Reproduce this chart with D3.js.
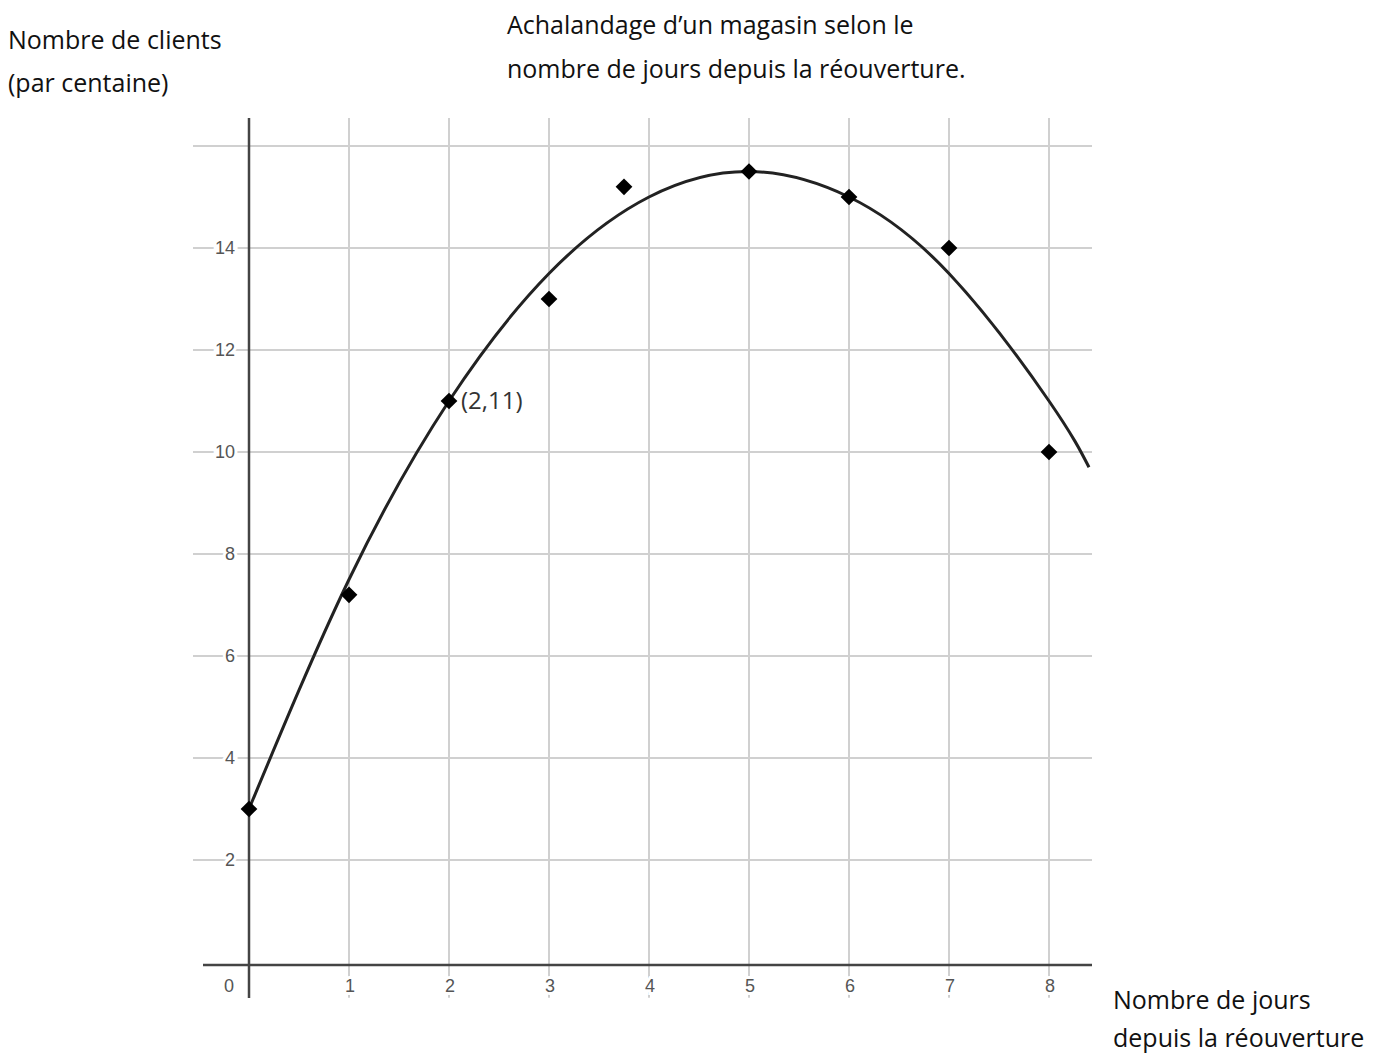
<!DOCTYPE html>
<html>
<head>
<meta charset="utf-8">
<script src="https://cdn.jsdelivr.net/npm/d3@7"></script>
<style>
  body { margin: 0; background: #fff; }
  .note { font-family: "Open Sans", "Noto Sans", sans-serif; font-size: 25px; fill: #111; }
  .tick-lbl { font-family: "Liberation Sans", Arial, sans-serif; font-size: 18px; fill: #555;
              stroke: #fff; stroke-width: 6px; paint-order: stroke; }
</style>
</head>
<body>
<svg id="chart" width="1382" height="1053"></svg>
<script>
// points (days, hundreds of clients)
var days    = [0, 1,   2,  3,  3.75, 5,    6,  7,  8];
var clients = [3, 7.2, 11, 13, 15.2, 15.5, 15, 14, 10];

// fitted curve, read at a few x positions
var curveX = [0, 1,   2,  3,    4,  5,    6,  7,    8,  8.4];
var curveY = [3, 7.5, 11, 13.5, 15, 15.5, 15, 13.5, 11, 9.7];

var xTicks = [0, 1, 2, 3, 4, 5, 6, 7, 8];
var yTicks = [2, 4, 6, 8, 10, 12, 14];
var yGrid  = [2, 4, 6, 8, 10, 12, 14, 16];

var svg = d3.select("#chart");

var x = d3.scaleLinear().domain([0, 8]).range([249, 1049]);
var y = d3.scaleLinear().domain([0, 14]).range([962, 248]);

var xmin = -0.56, xmax = 8.43, ymin = -0.7, ymax = 16.55;

// grid
svg.selectAll(".hgrid").data(yGrid).enter().append("line")
    .attr("x1", x(xmin)).attr("x2", x(xmax))
    .attr("y1", function(d) { return y(d); }).attr("y2", function(d) { return y(d); })
    .attr("stroke", "#d0d0d0").attr("stroke-width", 2);
svg.selectAll(".vgrid").data(xTicks.slice(1)).enter().append("line")
    .attr("x1", function(d) { return x(d); }).attr("x2", function(d) { return x(d); })
    .attr("y1", y(ymax)).attr("y2", y(ymin))
    .attr("stroke", "#d0d0d0").attr("stroke-width", 2);

// tick labels (white halo over the grid)
svg.selectAll(".xl").data(xTicks).enter().append("text")
    .attr("class", "tick-lbl")
    .attr("x", function(d) { return d == 0 ? x(d) - 20 : x(d) + 1; })
    .attr("y", 992)
    .attr("text-anchor", "middle")
    .text(function(d) { return d; });
svg.selectAll(".yl").data(yTicks).enter().append("text")
    .attr("class", "tick-lbl")
    .attr("x", 235)
    .attr("y", function(d) { return y(d) + 6; })
    .attr("text-anchor", "end")
    .text(function(d) { return d; });

// axes
svg.append("line")
    .attr("x1", x(-0.46)).attr("x2", x(xmax))
    .attr("y1", y(0) + 3).attr("y2", y(0) + 3)
    .attr("stroke", "#444").attr("stroke-width", 2.5);
svg.append("line")
    .attr("x1", x(0)).attr("x2", x(0))
    .attr("y1", y(ymax)).attr("y2", 998)
    .attr("stroke", "#444").attr("stroke-width", 2.5);

// curve
var line = d3.line()
    .curve(d3.curveNatural)
    .x(function(d, i) { return x(d); })
    .y(function(d, i) { return y(curveY[i]); });
svg.append("path")
    .attr("d", line(curveX))
    .attr("fill", "none")
    .attr("stroke", "#222")
    .attr("stroke-width", 3);

// diamonds
var sym = d3.symbol().type(d3.symbolSquare).size(140);
svg.selectAll(".pt").data(days).enter().append("path")
    .attr("d", sym)
    .attr("transform", function(d, i) { return "translate(" + x(d) + "," + y(clients[i]) + ") rotate(45)"; })
    .attr("fill", "#000");

// annotation
svg.append("text").attr("class", "note")
    .attr("x", x(2) + 12).attr("y", y(11) + 8)
    .style("fill", "#333").style("font-size", "24px")
    .text("(2,11)");

// titles
var notes = [
  [507, 34, "Achalandage d\u2019un magasin selon le"],
  [507, 78, "nombre de jours depuis la r\u00e9ouverture."],
  [8, 49, "Nombre de clients"],
  [8, 92, "(par centaine)"],
  [1113, 1009, "Nombre de jours"],
  [1113, 1047, "depuis la r\u00e9ouverture"]
];
svg.selectAll(".nt").data(notes).enter().append("text")
    .attr("class", "note")
    .attr("x", function(d) { return d[0]; })
    .attr("y", function(d) { return d[1]; })
    .text(function(d) { return d[2]; });
</script>
</body>
</html>
